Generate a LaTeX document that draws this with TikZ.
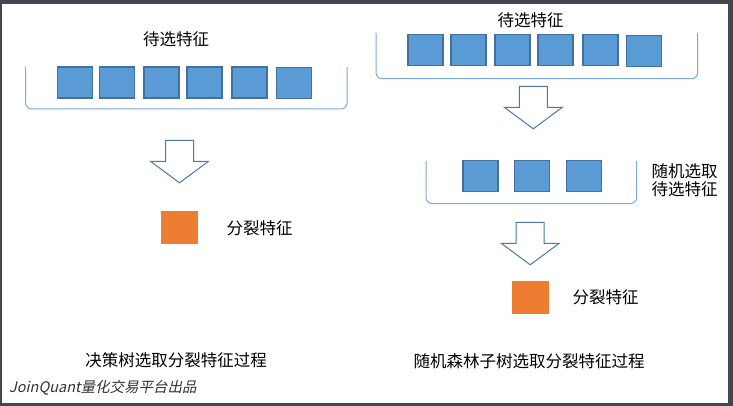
\documentclass[tikz,border=0pt]{standalone}
\usepackage{fontspec}
\newfontfamily\zh{Noto Sans CJK SC}
\newfontfamily\zhit[FakeSlant=0.22]{Noto Sans CJK SC}
\usetikzlibrary{positioning}

\definecolor{featblue}{HTML}{5B9BD5}
\definecolor{featline}{HTML}{41719C}
\definecolor{splitorange}{HTML}{ED7D31}
\definecolor{brackblue}{HTML}{7EA9D9}
\definecolor{arrline}{HTML}{4B78A8}
\definecolor{frame}{HTML}{42464E}

\newcommand\downblock[1]{%
  \draw[blockarr] (#1) ++(-14,0) -- ++(28,0) -- ++(0,21) -- ++(15,0)
    -- ++(-29,21.5) -- ++(-29,-21.5) -- ++(15,0) -- cycle;}

\begin{document}
\begin{tikzpicture}[x=1pt,y=-1pt,
    feat/.style={draw=featline, line width=1.1pt, fill=featblue,
      minimum width=35pt, minimum height=31pt, inner sep=0pt},
    split/.style={fill=splitorange, minimum width=37pt, minimum height=33pt, inner sep=0pt},
    bracket/.style={draw=brackblue, line width=1pt, rounded corners=6pt},
    blockarr/.style={draw=arrline, line width=1pt, fill=white, line join=miter},
    lbl/.style={font=\zh\fontsize{16.5}{20}\selectfont, inner sep=0pt}]
    \useasboundingbox (0,0) rectangle (733,406);
    \fill[frame] (0,0) rectangle (733,406);
    \fill[white] (2,4) rectangle (728,403);

    % left: decision tree
    \node[lbl] (ltitle) at (176,39) {待选特征};
    \draw[bracket] (25.7,67) -- (25.7,109) -- (347,109) -- (347,67);
    \foreach \i/\x/\y in {1/75.3/82.5,2/117.3/82.5,3/161.5/82.5,4/204.5/82.5,5/249.5/82.5,6/294.3/83.3}
        \node[feat] (l\i) at (\x,\y) {};
    \coordinate (larr) at (179.5,140.3);
    \downblock{larr}
    \node[split] (lsplit) at (179.5,227.3) {};
    \node[lbl, anchor=west] (lsplitlbl) at (226.5,228) {分裂特征};
    \node[lbl] (lcap) at (176,360.3) {决策树选取分裂特征过程};

    % right: random forest subtree
    \node[lbl] (rtitle) at (530.5,20) {待选特征};
    \draw[bracket] (376,33) -- (376,78.7) -- (697.7,78.7) -- (697.7,33);
    \foreach \i/\x/\y in {1/425.5/50.3,2/468.5/50.3,3/512.5/50.3,4/555.5/50.3,5/600.5/50.3,6/644.3/51.3}
        \node[feat] (r\i) at (\x,\y) {};
    \coordinate (rarr) at (533.3,86.3);
    \downblock{rarr}
    \draw[bracket] (426,161) -- (426,203.5) -- (636.7,203.5) -- (636.7,161);
    \foreach \i/\x in {1/480.5,2/532.3,3/584.3}
        \node[feat] (s\i) at (\x,175.7) {};
    \node[lbl, anchor=west, align=left] (randlbl) at (651.5,180) {随机选取\\[-1.5pt]待选特征};
    \coordinate (sarr) at (530.2,222.3);
    \downblock{sarr}
    \node[split] (rsplit) at (530.5,297.3) {};
    \node[lbl, anchor=west] (rsplitlbl) at (572.5,297.3) {分裂特征};
    \node[lbl] (rcap) at (529,361.3) {随机森林子树选取分裂特征过程};

    \node[anchor=west, inner sep=0pt, text=black!80,
      font=\zhit\fontsize{14.5}{17}\selectfont] (mark) at (9,387.3) {JoinQuant量化交易平台出品};
\end{tikzpicture}
\end{document}
